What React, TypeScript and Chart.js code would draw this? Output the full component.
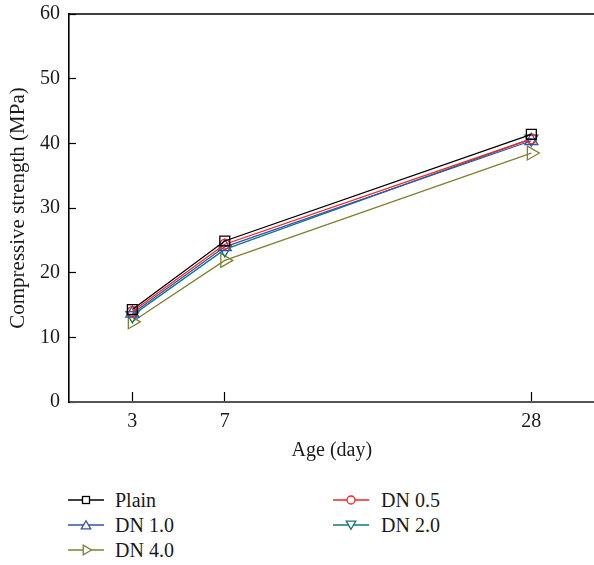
import React, { useEffect, useRef } from 'react';
import { Chart, registerables } from 'chart.js';

Chart.register(...registerables);

// ---- data ----
const AGE_LABELS = ['3', '7', '28'];
// position of each age along the (non-uniformly spaced) age axis
const AGE_AXIS_POS = [1, 2, 5.315];

const PLAIN = [14.3, 24.9, 41.4];
const DN_05 = [14.0, 24.4, 40.7];
const DN_10 = [13.7, 24.0, 40.4];
const DN_20 = [13.4, 23.6, 40.7];
const DN_40 = [12.4, 21.9, 38.5];

const SERIES_NAMES = ['Plain', 'DN 0.5', 'DN 1.0', 'DN 2.0', 'DN 4.0'];
const SERIES_VALUES = [PLAIN, DN_05, DN_10, DN_20, DN_40];
const SERIES_COLORS = ['#000000', '#ff2020', '#3550b0', '#107a7a', '#808030'];
const SERIES_MARKERS = ['rect', 'circle', 'triangle', 'triangle', 'triangle'];
const SERIES_ROT = [0, 0, 0, 180, 90];
const SERIES_RADIUS = [7, 5, 7.5, 7.5, 8];

const Y_TICKS_MIN = 0;
const Y_TICKS_MAX = 60;
const Y_STEP = 10;

const FONT = "'Liberation Serif', serif";
const TEXT_COLOR = '#1a1a1a';

const topBorder = {
  id: 'topBorder',
  afterDraw(chart: any) {
    const { ctx, chartArea } = chart;
    ctx.save();
    ctx.strokeStyle = '#000';
    ctx.lineWidth = 1.5;
    ctx.beginPath();
    ctx.moveTo(chartArea.left, chartArea.top);
    ctx.lineTo(chartArea.right, chartArea.top);
    ctx.stroke();
    ctx.restore();
  },
};

function LegendMarker({ kind, rot, color }: { kind: string; rot: number; color: string }) {
  const cx = 18;
  const cy = 10;
  if (kind === 'rect') {
    return <rect x={cx - 3.5} y={cy - 3.5} width={7} height={7} fill="#fff" stroke={color} strokeWidth={1.3} />;
  }
  if (kind === 'circle') {
    return <circle cx={cx} cy={cy} r={4} fill="#fff" stroke={color} strokeWidth={1.3} />;
  }
  const r = 5.5;
  const pts = [0, 120, 240]
    .map((a) => {
      const rad = ((a + rot) * Math.PI) / 180;
      return `${cx + Math.sin(rad) * r},${cy - Math.cos(rad) * r + (rot === 0 ? 1.2 : rot === 180 ? -1.2 : 0)}`;
    })
    .join(' ');
  return <polygon points={pts} fill="#fff" stroke={color} strokeWidth={1.3} />;
}

export default function App() {
  const canvasRef = useRef<HTMLCanvasElement | null>(null);

  useEffect(() => {
    if (!canvasRef.current) return;
    const datasets = SERIES_NAMES.map((name, i) => ({
      label: name,
      data: SERIES_VALUES[i].map((v, j) => ({ x: AGE_AXIS_POS[j], y: v })),
      borderColor: SERIES_COLORS[i],
      backgroundColor: 'rgba(255,255,255,0)',
      borderWidth: 1.3,
      pointStyle: SERIES_MARKERS[i] as any,
      rotation: SERIES_ROT[i],
      pointRadius: SERIES_RADIUS[i],
      pointBorderWidth: 1.3,
      pointBorderColor: SERIES_COLORS[i],
      pointBackgroundColor: 'rgba(255,255,255,0)',
      tension: 0,
    }));

    const chart = new Chart(canvasRef.current, {
      type: 'line',
      data: { datasets },
      plugins: [topBorder],
      options: {
        animation: false,
        responsive: false,
        maintainAspectRatio: false,
        layout: { padding: { top: 14, right: 0, left: 0, bottom: 0 } },
        plugins: { legend: { display: false }, tooltip: { enabled: false } },
        scales: {
          x: {
            type: 'linear',
            min: 0.315,
            max: 6.0,
            afterBuildTicks: (scale: any) => {
              scale.ticks = AGE_AXIS_POS.map((v) => ({ value: v }));
            },
            afterFit: (scale: any) => {
              scale.height = 73;
              scale.paddingLeft = 0;
              scale.paddingRight = 0;
            },
            ticks: {
              callback: (_v: any, idx: number) => AGE_LABELS[idx],
              font: { family: FONT, size: 20 },
              color: TEXT_COLOR,
              padding: 18,
              maxRotation: 0,
              autoSkip: false,
            },
            grid: {
              drawOnChartArea: false,
              drawTicks: true,
              tickLength: -10,
              color: '#000',
              tickColor: '#000',
              tickWidth: 1.2,
            },
            border: { color: '#555', width: 2 },
            title: {
              display: true,
              text: 'Age (day)',
              font: { family: FONT, size: 20 },
              color: TEXT_COLOR,
              padding: { top: 0, bottom: 12 },
            },
          },
          y: {
            type: 'linear',
            min: Y_TICKS_MIN,
            max: Y_TICKS_MAX,
            afterFit: (scale: any) => {
              scale.width = 69;
              scale.paddingTop = 0;
              scale.paddingBottom = 0;
            },
            ticks: {
              stepSize: Y_STEP,
              font: { family: FONT, size: 20 },
              color: TEXT_COLOR,
              padding: 16,
            },
            grid: {
              drawOnChartArea: false,
              drawTicks: true,
              tickLength: -7,
              color: '#000',
              tickColor: '#000',
              tickWidth: 1.2,
            },
            border: { color: '#000', width: 1.6 },
            title: {
              display: true,
              text: 'Compressive strength (MPa)',
              font: { family: FONT, size: 21 },
              color: TEXT_COLOR,
              padding: { top: 6, bottom: 0 },
            },
          },
        },
      },
    });
    return () => chart.destroy();
  }, []);

  return (
    <div
      style={{
        position: 'absolute',
        left: 0,
        top: 0,
        width: 594,
        height: 565,
        background: '#fff',
        overflow: 'hidden',
      }}
    >
      <canvas ref={canvasRef} width={604} height={475} style={{ display: 'block', width: 604, height: 475 }} />
      {SERIES_NAMES.map((name, i) => {
        const col = i % 2;
        const row = Math.floor(i / 2);
        const lineX = col ? 333 : 68;
        const textX = col ? 381 : 115;
        const y = 500 + row * 25;
        return (
          <React.Fragment key={name}>
            <svg
              width={36}
              height={20}
              style={{ position: 'absolute', left: lineX, top: y - 10 }}
            >
              <line x1={0} y1={10} x2={36} y2={10} stroke={SERIES_COLORS[i]} strokeWidth={1.5} />
              <LegendMarker kind={SERIES_MARKERS[i]} rot={SERIES_ROT[i]} color={SERIES_COLORS[i]} />
            </svg>
            <div
              style={{
                position: 'absolute',
                left: textX,
                top: y - 12,
                height: 24,
                lineHeight: '24px',
                fontFamily: FONT,
                fontSize: 20,
                color: TEXT_COLOR,
                whiteSpace: 'nowrap',
              }}
            >
              {name}
            </div>
          </React.Fragment>
        );
      })}
    </div>
  );
}
